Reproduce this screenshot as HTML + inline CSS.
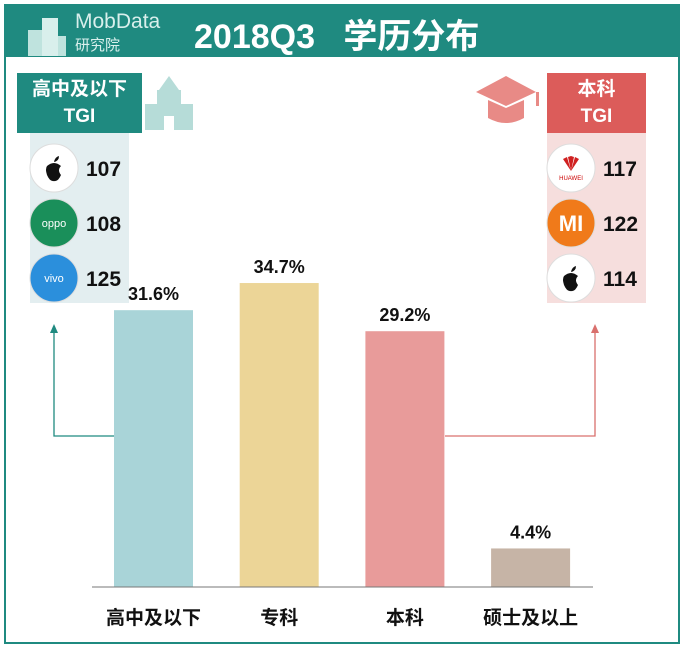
<!DOCTYPE html>
<html><head><meta charset="utf-8"><style>
body{margin:0;width:683px;height:647px;background:#fff;overflow:hidden;font-family:"Liberation Sans","Noto Sans CJK SC",sans-serif}
#frame{position:absolute;left:4px;top:4px;width:672px;height:636px;border:2px solid #1f8a80}
#hdr{position:absolute;left:4px;top:4px;width:676px;height:53px;background:#1f8a80}
</style></head><body>
<div id="frame"></div>
<div id="hdr">
 <svg width="50" height="50" style="position:absolute;left:18px;top:6px">
  <rect x="6" y="20" width="14" height="26" fill="#bfe3de"/><rect x="20" y="8" width="16" height="38" fill="#d9efec"/><rect x="36" y="26" width="8" height="20" fill="#bfe3de"/>
 </svg>
 <div style="position:absolute;left:71px;top:7px;color:#d9efec;font-size:21px;line-height:22px">MobData<br><span style="font-size:15px">研究院</span></div>
 <div style="position:absolute;left:190px;top:5px;color:#fff;font-size:34px;font-weight:bold;white-space:pre">2018Q3   学历分布</div>
</div>
<div style="position:absolute;left:17px;top:73px;width:125px;height:60px;background:#1f8a80;color:#fff;font-weight:bold;font-size:19px;text-align:center;line-height:27px;padding-top:3px;box-sizing:border-box">高中及以下<br>TGI</div>
<div style="position:absolute;left:30px;top:133px;width:99px;height:170px;background:#e3eef0"></div>
<svg width="60" height="56" style="position:absolute;left:143px;top:76px">
 <polygon points="26,0 16,14 36,14" fill="#b6dcd8"/><rect x="14" y="14" width="24" height="40" fill="#b6dcd8"/><rect x="2" y="28" width="12" height="26" fill="#b6dcd8"/><rect x="38" y="28" width="12" height="26" fill="#b6dcd8"/><rect x="21" y="40" width="10" height="14" fill="#fff"/>
</svg>
<div style="position:absolute;left:547px;top:73px;width:99px;height:60px;background:#dc5c5a;color:#fff;font-weight:bold;font-size:19px;text-align:center;line-height:27px;padding-top:3px;box-sizing:border-box">本科<br>TGI</div>
<div style="position:absolute;left:547px;top:133px;width:99px;height:170px;background:#f6dedd"></div>
<svg width="72" height="56" style="position:absolute;left:474px;top:74px">
 <polygon points="32,2 2,18 32,32 62,18" fill="#e88a86"/><path d="M14,26 L14,44 Q32,54 50,44 L50,26 L32,34 Z" fill="#e88a86"/><rect x="62" y="18" width="3" height="14" fill="#e88a86"/>
</svg>
<svg id="chart" width="683" height="647" style="position:absolute;left:0;top:0"></svg>
<script>
const categories=["高中及以下","专科","本科","硕士及以上"];
const values=[31.6,34.7,29.2,4.4];
const valueLabels=["31.6%","34.7%","29.2%","4.4%"];
const barColors=["#a9d4d8","#ecd597","#e89b9a","#c6b4a6"];
const leftBrands=["apple","oppo","vivo"];
const leftTGI=[107,108,125];
const rightBrands=["huawei","mi","apple"];
const rightTGI=[117,122,114];
const NS="http://www.w3.org/2000/svg";
const svg=document.getElementById('chart');
const baseY=587,pxPerPct=8.76;
function yScale(v){return baseY-v*pxPerPct;}
function xScale(i){return 114+i*125.7;}
const barW=79;
function mk(t,a){const e=document.createElementNS(NS,t);for(const k in a)e.setAttribute(k,a[k]);svg.appendChild(e);return e;}
let p=mk('polyline',{points:"114,436 54,436 54,330",fill:"none",stroke:"#1f8a80","stroke-width":1.3});


p=mk('polygon',{points:"50,333 58,333 54,324",fill:"#1f8a80"});


p=mk('polyline',{points:"445,436 595,436 595,330",fill:"none",stroke:"#d9706d","stroke-width":1.3});


p=mk('polygon',{points:"591,333 599,333 595,324",fill:"#d9706d"});


values.forEach((v,i)=>{
 const x=xScale(i),y=yScale(v);
 const r=mk('rect',{x:x,y:y,width:barW,height:baseY-y,fill:barColors[i]});
 
 
 const t=mk('text',{x:x+barW/2,y:y-10,"text-anchor":"middle","font-size":18,"font-weight":"bold",fill:"#111"});
 t.textContent=valueLabels[i];
 
 
 const c=mk('text',{x:x+barW/2,y:624,"text-anchor":"middle","font-size":19,"font-weight":"bold",fill:"#111"});
 c.textContent=categories[i];
 
 
});
const ax=mk('line',{x1:92,y1:baseY,x2:593,y2:baseY,stroke:"#777","stroke-width":1});


const brandFill={apple:"#fff",oppo:"#1a8f5a",vivo:"#2b8fdc",huawei:"#fff",mi:"#f07a1a"};
const brandText={apple:"",oppo:"oppo",vivo:"vivo",huawei:"HUAWEI",mi:"MI"};
function brand(cx,cy,b,val,side,i){
 const c=mk('ellipse',{cx:cx,cy:cy,rx:24,ry:24,fill:brandFill[b],stroke:"#ddd","stroke-width":1});
 
 
 if(b==="apple"){const a=mk('path',{d:`M${cx-7},${cy-2} q7,-6 14,0 q-4,4 0,9 q-3,7 -7,6 q-4,1 -7,-6 q-2,-6 0,-9 Z M${cx},${cy-6} q1,-5 5,-6 q0,5 -5,6 Z`,fill:"#111"});}
 else{const t=mk('text',{x:cx,y:cy+(b==="mi"?8:b==="huawei"?12:4),"text-anchor":"middle","font-size":b==="mi"?22:b==="huawei"?6:11,"font-weight":b==="mi"?"bold":"normal",fill:b==="huawei"?"#c00":"#fff"});t.textContent=brandText[b];
  if(b==="huawei"){const h=mk('path',{d:`M${cx},${cy+3} l-8,-12 l4,-2 Z M${cx},${cy+3} l8,-12 l-4,-2 Z M${cx},${cy+3} l-3,-14 l3,-1 Z M${cx},${cy+3} l3,-14 l-3,-1 Z`,fill:"#d02020"});}}
 const n=mk('text',{x:cx+32,y:cy+8,"font-size":21,"font-weight":"bold",fill:"#111"});
 n.textContent=val;
 
 
}
const rowY=[168,223,278];
leftBrands.forEach((b,i)=>brand(54,rowY[i],b,leftTGI[i],'left',i));
rightBrands.forEach((b,i)=>brand(571,rowY[i],b,rightTGI[i],'right',i));
</script>
</body></html>
